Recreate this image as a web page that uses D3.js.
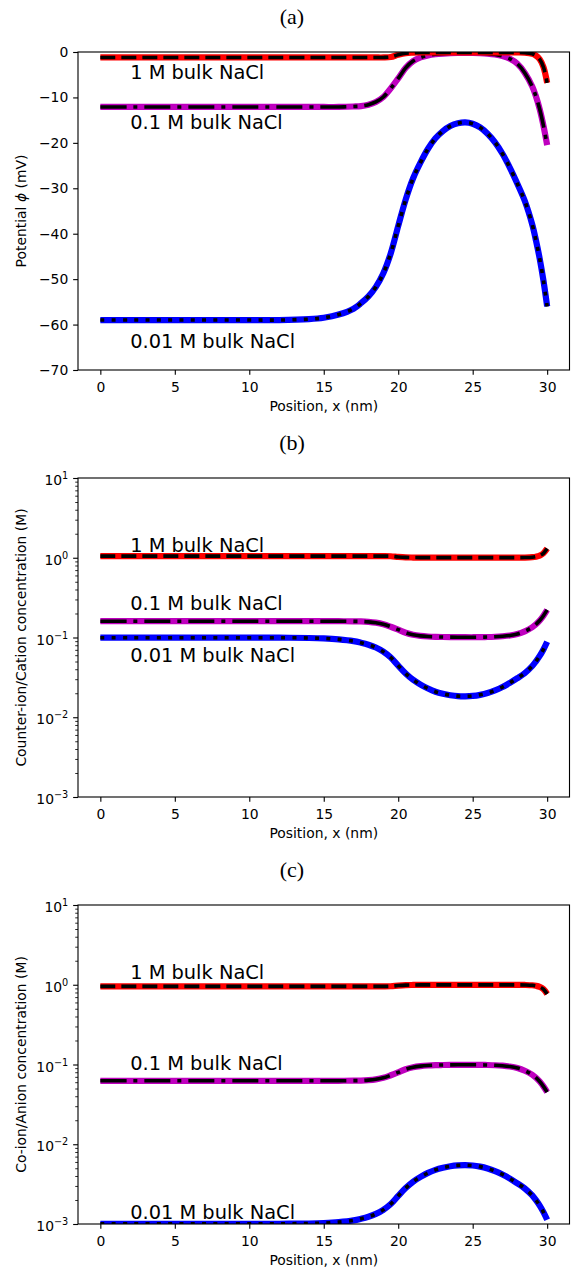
<!DOCTYPE html>
<html><head><meta charset="utf-8">
<script src="https://cdn.jsdelivr.net/npm/d3@7"></script>
<style>body{margin:0;background:#fff} text{font-family:"DejaVu Sans",sans-serif;fill:#000}</style>
</head><body><svg id="c" width="571" height="1268" xmlns="http://www.w3.org/2000/svg"></svg>
<script>
// ---------------- data ----------------
const xPos = [0,2,4,6,8,10,12,14,15,16,17,17.5,18,18.5,19,19.5,20,20.5,21,21.5,22,22.5,23,23.5,24,24.5,25,25.5,26,26.5,27,27.5,28,28.5,29,29.25,29.5,29.75,30];
const xTicks = [0,5,10,15,20,25,30];
const seriesNames = ["1 M bulk NaCl","0.1 M bulk NaCl","0.01 M bulk NaCl"];

// (a) potential, mV
const phi1M = [-1.2,-1.2,-1.2,-1.2,-1.2,-1.2,-1.2,-1.2,-1.2,-1.2,-1.2,-1.2,-1.2,-1.2,-1.2,-1.1,-0.6,-0.25,-0.15,-0.1,-0.1,-0.1,-0.1,-0.1,-0.1,-0.1,-0.1,-0.1,-0.1,-0.1,-0.1,-0.1,-0.1,-0.15,-0.4,-0.8,-1.6,-3.3,-6.8];
const phi01M = [-12.1,-12.1,-12.1,-12.1,-12.1,-12.1,-12.1,-12.1,-12.1,-12.1,-12.0,-11.9,-11.6,-11.0,-9.9,-8.0,-5.8,-3.5,-2.0,-1.2,-0.75,-0.5,-0.35,-0.25,-0.2,-0.2,-0.2,-0.25,-0.35,-0.55,-0.9,-1.5,-2.6,-4.6,-7.6,-9.8,-12.6,-16.2,-20.5];
const phi001M = [-59,-59,-59,-59,-59,-59,-59,-58.8,-58.5,-57.8,-56.5,-55.3,-53.8,-51.7,-48.7,-44.3,-38.3,-32.5,-27.8,-24.3,-21.3,-19.0,-17.4,-16.3,-15.7,-15.5,-15.8,-16.6,-18.0,-19.9,-22.4,-25.5,-29.0,-32.8,-38.0,-41.5,-45.5,-50.3,-56.0];
const phiTicks = [-70,-60,-50,-40,-30,-20,-10,0];

// (b) counter-ion / cation concentration, M
const cat1M = [1.048,1.048,1.048,1.048,1.048,1.048,1.048,1.048,1.048,1.048,1.048,1.048,1.048,1.048,1.048,1.044,1.024,1.010,1.006,1.004,1.004,1.004,1.004,1.004,1.004,1.004,1.004,1.004,1.004,1.004,1.004,1.004,1.004,1.006,1.016,1.032,1.064,1.137,1.303];
const cat01M = [0.160,0.160,0.160,0.160,0.160,0.160,0.160,0.160,0.160,0.160,0.1595,0.1589,0.157,0.1534,0.147,0.1365,0.1253,0.1146,0.1081,0.1048,0.103,0.102,0.1014,0.101,0.1008,0.1008,0.1008,0.101,0.1014,0.1022,0.1036,0.106,0.1106,0.1196,0.1344,0.1464,0.1633,0.1878,0.222];
const cat001M = [0.0994,0.0994,0.0994,0.0994,0.0994,0.0994,0.0994,0.0986,0.0974,0.0948,0.0901,0.0860,0.0811,0.0748,0.0665,0.0561,0.0444,0.0354,0.0295,0.0257,0.0229,0.0209,0.0197,0.0189,0.0184,0.0183,0.0185,0.0191,0.0201,0.0217,0.0239,0.0270,0.0309,0.0358,0.0439,0.0503,0.0587,0.0708,0.0884];

// (c) co-ion / anion concentration, M
const an1M = [0.954,0.954,0.954,0.954,0.954,0.954,0.954,0.954,0.954,0.954,0.954,0.954,0.954,0.954,0.954,0.958,0.977,0.990,0.994,0.996,0.996,0.996,0.996,0.996,0.996,0.996,0.996,0.996,0.996,0.996,0.996,0.996,0.996,0.994,0.985,0.969,0.940,0.880,0.767];
const an01M = [0.0625,0.0625,0.0625,0.0625,0.0625,0.0625,0.0625,0.0625,0.0625,0.0625,0.0627,0.0629,0.0637,0.0652,0.0680,0.0733,0.0798,0.0873,0.0925,0.0954,0.0971,0.0981,0.0986,0.0990,0.0992,0.0992,0.0992,0.0990,0.0986,0.0979,0.0966,0.0943,0.0904,0.0836,0.0744,0.0683,0.0612,0.0532,0.0450];
const an001M = [0.001007,0.001007,0.001007,0.001007,0.001007,0.001007,0.001007,0.001014,0.001027,0.001055,0.00111,0.001163,0.001233,0.001337,0.001504,0.00178,0.00225,0.00282,0.00339,0.00389,0.00437,0.00478,0.00508,0.0053,0.00543,0.00547,0.00541,0.00524,0.00497,0.00461,0.00418,0.00371,0.00323,0.00279,0.00228,0.00199,0.0017,0.00141,0.00113];
const logTicks = [1e-3,1e-2,1e-1,1,10];
const logTickExp = ["\u22123","\u22122","\u22121","0","1"];

// label anchor positions (data coords)
const labelX = 2;
const labelYa = [-5.9,-17,-65.2];
const labelYb = [1.17,0.221,0.0493];
const labelYc = [1.18,0.0855,0.00117];

// ---------------- drawing ----------------
const svg = d3.select("#c");
const PT = 100/72;
const colors = ["#ff0000","#bf00bf","#0000ff"];
const dashes = ["15,6","26,7,4,7","4,7.3"];
const x = d3.scaleLinear().domain([-1.5,31.5]).range([78,569.5]);
const titleX = 292;

const panels = [
  {title:"(a)", top:52, bottom:370, log:false, domain:[-70,0], data:[phi1M,phi01M,phi001M], ylabel:"pot", labelY:labelYa},
  {title:"(b)", top:478, bottom:797, log:true, domain:[1e-3,10], data:[cat1M,cat01M,cat001M], ylabel:"Counter-ion/Cation concentration (M)", labelY:labelYb},
  {title:"(c)", top:905, bottom:1224, log:true, domain:[1e-3,10], data:[an1M,an01M,an001M], ylabel:"Co-ion/Anion concentration (M)", labelY:labelYc}
];

panels.forEach((p,pi)=>{
  const y = (p.log ? d3.scaleLog() : d3.scaleLinear()).domain(p.domain).range([p.bottom,p.top]);
  const g = svg.append("g");
  const clipId = "clip"+pi;
  svg.append("clipPath").attr("id",clipId).append("rect")
    .attr("x",x.range()[0]).attr("y",p.top).attr("width",x.range()[1]-x.range()[0]).attr("height",p.bottom-p.top);

  // lines
  const lineG = g.append("g").attr("clip-path",`url(#${clipId})`);
  const line = d3.line().x((d,i)=>x(xPos[i])).y(d=>y(d)).curve(d3.curveCatmullRom.alpha(0.5));
  [2,1,0].forEach(si=>{
    lineG.append("path").attr("d",line(p.data[si])).attr("fill","none")
      .attr("stroke",colors[si]).attr("stroke-width",6.2).attr("stroke-linecap","butt");
    lineG.append("path").attr("d",line(p.data[si])).attr("fill","none")
      .attr("stroke","#000").attr("stroke-width",3.6).attr("stroke-dasharray",dashes[si]);
  });

  // x axis
  const xa = g.append("g").attr("transform",`translate(0,${p.bottom})`)
    .call(d3.axisBottom(x).tickValues(xTicks).tickSize(3.5*PT).tickPadding(7).tickFormat(d3.format("d")));
  xa.select(".domain").remove();
  xa.selectAll("line").attr("stroke-width",0.8*PT);
  xa.selectAll("text").style("font-size","13.9px").attr("font-family","DejaVu Sans");

  // y axis
  if(!p.log){
    const ya = g.append("g").attr("transform",`translate(${x.range()[0]},0)`)
      .call(d3.axisLeft(y).tickValues(phiTicks).tickSize(3.5*PT).tickPadding(3.5*PT)
        .tickFormat(d=>d<0 ? "\u2212"+Math.abs(d) : String(d)));
    ya.select(".domain").remove();
    ya.selectAll("line").attr("stroke-width",0.8*PT);
    ya.selectAll("text").style("font-size","13.9px");
  } else {
    const minorVals = [];
    [1e-3,1e-2,1e-1,1].forEach(b=>{for(let k=2;k<=9;k++) minorVals.push(b*k);});
    const ym = g.append("g").attr("transform",`translate(${x.range()[0]},0)`)
      .call(d3.axisLeft(y).tickValues(minorVals).tickSize(2*PT).tickFormat(()=>""));
    ym.select(".domain").remove();
    ym.selectAll("line").attr("stroke-width",0.6*PT);
    const ya = g.append("g").attr("transform",`translate(${x.range()[0]},0)`)
      .call(d3.axisLeft(y).tickValues(logTicks).tickSize(3.5*PT).tickPadding(3.5*PT).tickFormat(()=>""));
    ya.select(".domain").remove();
    ya.selectAll("line").attr("stroke-width",0.8*PT);
    ya.selectAll("text").each(function(d,i){
      const t = d3.select(this).attr("dy",null).attr("y",6.5).style("font-size","13.9px");
      t.append("tspan").text("10");
      t.append("tspan").attr("dy",-6).style("font-size","9.7px").text(logTickExp[i]);
    });
  }

  // frame
  g.append("rect").attr("x",x.range()[0]).attr("y",p.top)
    .attr("width",x.range()[1]-x.range()[0]).attr("height",p.bottom-p.top)
    .attr("fill","none").attr("stroke","#000").attr("stroke-width",0.8*PT);

  // series labels
  seriesNames.forEach((s,si)=>{
    g.append("text").attr("x",x(labelX)).attr("y",y(p.labelY[si]))
      .style("font-size","19.4px").text(s);
  });

  // title
  g.append("text").attr("x",titleX).attr("y",p.top-28)
    .attr("text-anchor","middle").style("font-family","'Liberation Serif',serif").style("font-size","22px").text(p.title);

  // x label
  g.append("text").attr("x",(x.range()[0]+x.range()[1])/2).attr("y",p.bottom+41)
    .attr("text-anchor","middle").style("font-size","13.9px").text("Position, x (nm)");

  // y label
  const cy = (p.top+p.bottom)/2;
  const yl = g.append("text").attr("transform",`translate(26,${cy}) rotate(-90)`)
    .attr("text-anchor","middle").style("font-size","13.9px");
  if(p.ylabel==="pot"){
    yl.append("tspan").text("Potential ");
    yl.append("tspan").style("font-style","italic").text("\u03d5");
    yl.append("tspan").text(" (mV)");
  } else yl.text(p.ylabel);
});
</script></body></html>
